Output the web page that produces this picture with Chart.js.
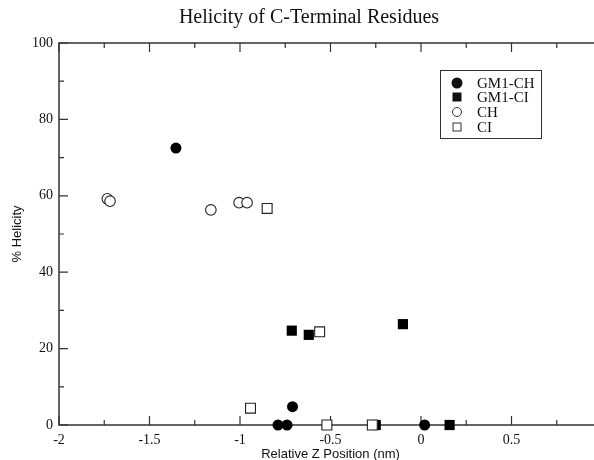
<!DOCTYPE html>
<html>
<head>
<meta charset="utf-8" />
<title>Helicity of C-Terminal Residues</title>
<script src="https://cdn.jsdelivr.net/npm/chart.js@4/dist/chart.umd.min.js"></script>
<style>
	html,
	body {
		margin: 0;
		padding: 0;
		background: #fff;
		overflow: hidden;
	}
	#wrap {
		width: 594px;
		height: 460px;
		overflow: hidden;
	}
</style>
</head>
<body>
<div id="wrap">
	<canvas id="helicity" width="618" height="460"></canvas>
</div>
<script>
// Data
const seriesNames = ['GM1-CH', 'GM1-CI', 'CH', 'CI'];

const gm1chX = [-1.354, -0.79, -0.74, -0.71, 0.02];
const gm1chY = [72.5, 0, 0, 4.8, 0];

const gm1ciX = [-0.714, -0.62, -0.1, -0.25, 0.158];
const gm1ciY = [24.7, 23.6, 26.4, 0, 0];

const chX = [-1.733, -1.718, -1.161, -1.005, -0.961];
const chY = [59.2, 58.6, 56.3, 58.2, 58.2];

const ciX = [-0.85, -0.56, -0.942, -0.52, -0.269];
const ciY = [56.7, 24.4, 4.4, 0, 0];

const xTicks = [-2, -1.5, -1, -0.5, 0, 0.5, 1];
const yTicks = [0, 20, 40, 60, 80, 100];

const serif = "'Liberation Serif', 'Times New Roman', serif";
const sans = "'Liberation Sans', Arial, sans-serif";
const ink = '#333';

function toPoints(xs, ys) {
	return xs.map((x, i) => ({ x: x, y: ys[i] }));
}

// Frame with inward ticks, like the xmgrace original (right side is cropped off)
const framePlugin = {
	id: 'frame',
	beforeDatasetsDraw(chart) {
		const { ctx, chartArea, scales } = chart;
		const { left, right, top, bottom } = chartArea;
		ctx.save();
		ctx.strokeStyle = ink;
		ctx.lineWidth = 1.5;
		ctx.beginPath();
		ctx.moveTo(right + 20, top);
		ctx.lineTo(left, top);
		ctx.lineTo(left, bottom);
		ctx.lineTo(right + 20, bottom);
		ctx.stroke();
		ctx.lineWidth = 1.2;
		ctx.beginPath();
		for (let v = -2; v <= 0.8; v += 0.25) {
			let px = scales.x.getPixelForValue(v);
			let len = Math.abs(v * 2 - Math.round(v * 2)) < 1e-6 ? 9 : 5;
			ctx.moveTo(px, bottom);
			ctx.lineTo(px, bottom - len);
			ctx.moveTo(px, top);
			ctx.lineTo(px, top + len);
		}
		for (let v = 0; v <= 100; v += 10) {
			let py = scales.y.getPixelForValue(v);
			let len = v % 20 === 0 ? 9 : 5;
			ctx.moveTo(left, py);
			ctx.lineTo(left + len, py);
		}
		ctx.stroke();
		ctx.restore();
	},
};

// Boxed legend inside the plot
const legendPlugin = {
	id: 'boxLegend',
	afterDatasetsDraw(chart) {
		const { ctx } = chart;
		ctx.save();
		ctx.strokeStyle = ink;
		ctx.lineWidth = 1;
		ctx.strokeRect(440.5, 70.5, 101, 68);
		ctx.font = '15px ' + serif;
		ctx.textBaseline = 'middle';
		ctx.fillStyle = '#111';
		let rows = [83, 97, 112, 127];
		rows.forEach((y, i) => {
			let sx = 457;
			ctx.beginPath();
			if (i === 0) {
				ctx.arc(sx, y, 5.5, 0, Math.PI * 2);
				ctx.fill();
			} else if (i === 1) {
				ctx.fillRect(sx - 4.5, y - 4.5, 9, 9);
			} else if (i === 2) {
				ctx.lineWidth = 1;
				ctx.arc(sx, y, 4.5, 0, Math.PI * 2);
				ctx.stroke();
			} else {
				ctx.lineWidth = 1;
				ctx.strokeRect(sx - 4, y - 4, 8, 8);
			}
			ctx.fillText(seriesNames[i], 477, y + 1);
		});
		ctx.restore();
	},
};

let ctxHelicity = document.getElementById('helicity').getContext('2d');
let helicityChart = new Chart(ctxHelicity, {
	type: 'scatter',
	data: {
		datasets: [
			{
				label: seriesNames[0],
				data: toPoints(gm1chX, gm1chY),
				pointStyle: 'circle',
				pointRadius: 5.5,
				backgroundColor: '#000',
				borderColor: '#000',
				borderWidth: 0,
				clip: false,
				order: 1,
			},
			{
				label: seriesNames[1],
				data: toPoints(gm1ciX, gm1ciY),
				pointStyle: 'rect',
				pointRadius: 7.2,
				backgroundColor: '#000',
				borderColor: '#000',
				borderWidth: 0,
				clip: false,
				order: 2,
			},
			{
				label: seriesNames[2],
				data: toPoints(chX, chY),
				pointStyle: 'circle',
				pointRadius: 5.3,
				backgroundColor: '#fff',
				borderColor: '#222',
				borderWidth: 1.1,
				clip: false,
				order: 1,
			},
			{
				label: seriesNames[3],
				data: toPoints(ciX, ciY),
				pointStyle: 'rect',
				pointRadius: 7,
				backgroundColor: '#fff',
				borderColor: '#222',
				borderWidth: 1.1,
				clip: false,
				order: 0,
			},
		],
	},
	options: {
		responsive: false,
		animation: false,
		devicePixelRatio: 1,
		layout: {
			// left padding keeps the title centred where the original has it
			padding: { left: 16, right: 16, top: 0, bottom: 0 },
		},
		plugins: {
			legend: { display: false },
			tooltip: { enabled: false },
			title: {
				display: true,
				text: 'Helicity of C-Terminal Residues',
				color: '#111',
				font: { family: serif, size: 20, weight: 'normal', lineHeight: 1.2 },
				padding: { top: 6, bottom: 13 },
			},
		},
		scales: {
			x: {
				type: 'linear',
				min: -2,
				max: 1,
				afterBuildTicks: (scale) => {
					scale.ticks = xTicks.map((v) => ({ value: v }));
				},
				afterFit: (scale) => {
					scale.height = 35;
				},
				grid: { display: false, drawTicks: false },
				border: { display: false },
				ticks: {
					padding: 7,
					color: '#111',
					maxRotation: 0,
					font: { family: serif, size: 14 },
					callback: (v) => String(v),
				},
				title: {
					display: true,
					text: 'Relative Z Position (nm)',
					color: '#111',
					font: { family: sans, size: 13 },
					padding: { top: 0, bottom: -2 },
				},
			},
			y: {
				type: 'linear',
				min: 0,
				max: 100,
				afterBuildTicks: (scale) => {
					scale.ticks = yTicks.map((v) => ({ value: v }));
				},
				afterFit: (scale) => {
					scale.width = 43;
				},
				grid: { display: false, drawTicks: false },
				border: { display: false },
				ticks: {
					padding: 6,
					color: '#111',
					font: { family: serif, size: 14 },
				},
				title: {
					display: true,
					text: '% Helicity',
					color: '#111',
					font: { family: sans, size: 13 },
					padding: { top: -6, bottom: 0 },
				},
			},
		},
	},
	plugins: [framePlugin, legendPlugin],
});
</script>
</body>
</html>
